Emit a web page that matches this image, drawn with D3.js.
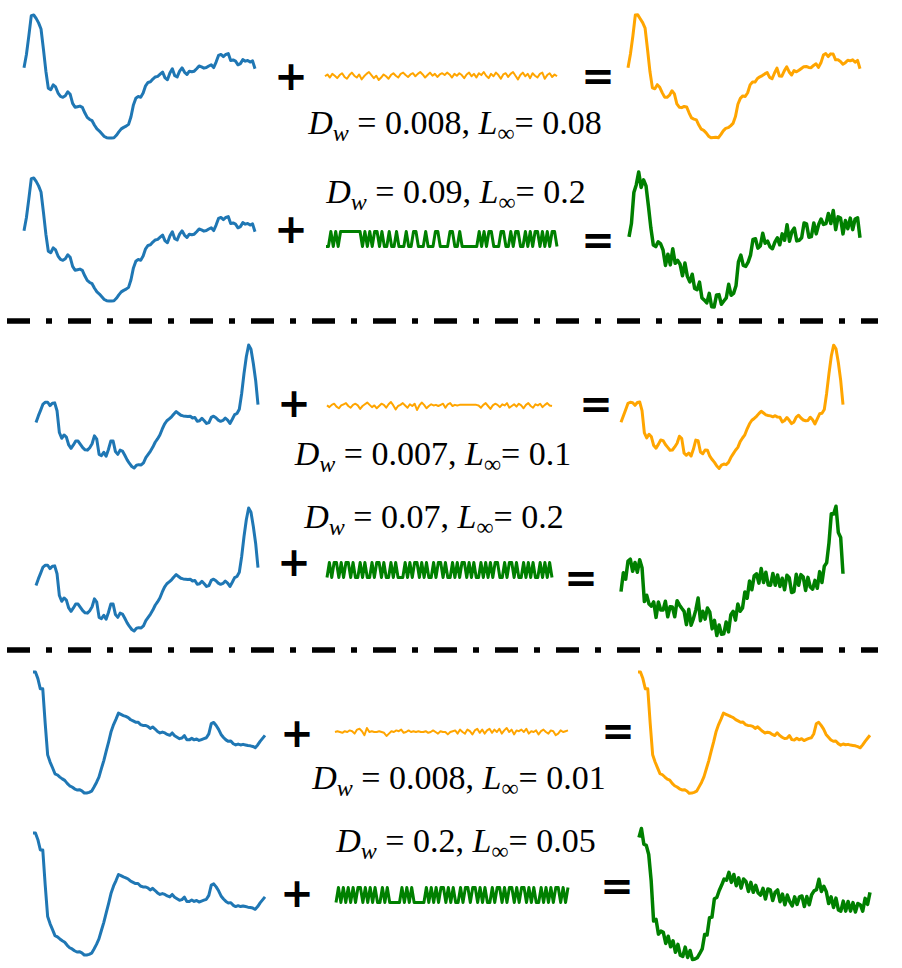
<!DOCTYPE html>
<html>
<head>
<meta charset="utf-8">
<script src="https://cdn.jsdelivr.net/npm/d3@7"></script>
<style>
  body { margin: 0; background: #fff; }
  svg { display: block; }
</style>
</head>
<body>
<div id="chart"></div>
<script>
// base series (three ECG-like curves), one per section
const baseA = [
  0.50, 0.94, 1.56, 2.22, 2.24, 2.13, 1.98, 1.78, 1.11, 0.39, -0.17, -0.22,
  -0.06, -0.13, -0.33, -0.44, -0.47, -0.42, -0.29, -0.37, -0.67, -0.80, -0.78, -0.76,
  -0.80, -0.98, -1.13, -1.20, -1.24, -1.39, -1.51, -1.58, -1.67, -1.76, -1.80, -1.81,
  -1.81, -1.80, -1.72, -1.61, -1.51, -1.46, -1.42, -1.36, -1.11, -0.72, -0.50, -0.44,
  -0.47, -0.33, -0.09, 0.02, 0.04, 0.13, 0.20, 0.22, 0.29, 0.36, 0.17, 0.11,
  0.33, 0.47, 0.24, 0.20, 0.39, 0.50, 0.36, 0.28, 0.39, 0.37, 0.39, 0.47,
  0.56, 0.53, 0.49, 0.51, 0.56, 0.60, 0.51, 0.69, 0.91, 0.94, 0.87, 0.94,
  0.97, 0.74, 0.76, 0.72, 0.60, 0.64, 0.77, 0.72, 0.74, 0.69, 0.73, 0.47
];
const baseB = [
  -0.28, -0.06, 0.13, 0.33, 0.39, 0.39, 0.28, 0.36, 0.37, 0.11, -0.61, -0.80,
  -0.69, -0.76, -1.02, -1.13, -1.02, -0.89, -0.89, -1.00, -1.11, -1.18, -1.19, -1.11,
  -0.98, -0.72, -0.83, -1.33, -1.37, -1.26, -1.39, -1.17, -0.89, -0.89, -1.24, -1.33,
  -1.19, -1.22, -1.36, -1.51, -1.63, -1.73, -1.78, -1.69, -1.67, -1.68, -1.61, -1.44,
  -1.33, -1.22, -1.09, -0.93, -0.82, -0.69, -0.50, -0.33, -0.22, -0.16, -0.09, 0.00,
  0.08, 0.02, -0.04, -0.06, -0.07, -0.08, -0.07, -0.13, -0.11, -0.24, -0.22, -0.14,
  -0.22, -0.31, -0.28, -0.11, -0.07, -0.12, -0.20, -0.24, -0.21, -0.13, -0.20, -0.31,
  -0.17, -0.02, 0.02, 0.16, 0.67, 1.33, 1.89, 2.28, 2.14, 1.67, 1.11, 0.31
];
const baseC = [
  2.39, 2.39, 2.17, 1.83, 1.83, 0.67, -0.37, -0.61, -0.80, -1.00, -1.04, -1.11,
  -1.17, -1.22, -1.32, -1.40, -1.44, -1.50, -1.54, -1.53, -1.57, -1.64, -1.64, -1.62,
  -1.58, -1.44, -1.29, -1.11, -0.83, -0.56, -0.24, 0.07, 0.41, 0.64, 0.82, 1.02,
  0.98, 0.94, 0.91, 0.87, 0.80, 0.76, 0.72, 0.72, 0.64, 0.61, 0.61, 0.58,
  0.51, 0.56, 0.49, 0.41, 0.36, 0.39, 0.36, 0.31, 0.28, 0.36, 0.27, 0.22,
  0.17, 0.19, 0.27, 0.13, 0.13, 0.18, 0.13, 0.16, 0.11, 0.14, 0.17, 0.20,
  0.33, 0.67, 0.71, 0.61, 0.48, 0.31, 0.21, 0.13, 0.08, 0.09, 0.00, -0.04,
  -0.01, -0.04, -0.02, -0.04, -0.06, -0.07, -0.09, -0.13, -0.04, 0.08, 0.18, 0.28
];

// small (orange) perturbations
const noiseA1 = [
  0.000, 0.015, -0.010, 0.020, 0.005, -0.015, 0.010, 0.025, -0.005, -0.020, 0.010, 0.030,
  0.005, -0.010, 0.015, -0.025, 0.000, 0.020, 0.035, 0.010, -0.015, 0.005, -0.030, -0.010,
  0.015, 0.000, -0.020, 0.010, 0.025, 0.005, -0.010, 0.020, 0.030, 0.010, -0.005, 0.015,
  0.025, 0.000, 0.020, 0.035, 0.015, -0.010, 0.010, 0.030, 0.005, 0.020, -0.005, 0.015,
  0.025, 0.010, 0.030, 0.015, -0.010, 0.020, 0.005, 0.025, 0.010, -0.015, 0.015, 0.030,
  0.000, 0.020, -0.010, 0.025, 0.010, 0.035, 0.005, -0.015, 0.020, 0.000, 0.030, 0.010,
  -0.020, 0.015, 0.025, -0.005, 0.020, 0.035, 0.005, -0.025, 0.010, 0.030, 0.000, 0.020,
  -0.015, 0.025, 0.005, -0.010, 0.020, 0.030, -0.020, 0.010, 0.025, -0.005, 0.015, 0.000
];
const noiseB1 = [
  0.010, -0.005, 0.015, 0.025, 0.000, -0.015, 0.010, 0.020, 0.030, 0.005, -0.010, 0.015,
  0.025, 0.010, -0.020, 0.005, 0.020, 0.035, 0.015, -0.005, 0.010, -0.015, 0.005, 0.025,
  0.015, -0.010, 0.020, 0.040, 0.010, -0.025, 0.005, 0.015, 0.030, 0.010, -0.010, 0.020,
  0.005, 0.025, -0.030, 0.010, 0.035, 0.015, -0.015, 0.005, 0.020, 0.010, 0.015, 0.005,
  0.015, 0.025, -0.010, 0.020, 0.030, 0.005, 0.015, 0.010, 0.015, 0.015, 0.015, 0.015,
  0.015, 0.015, 0.015, 0.015, 0.010, -0.010, 0.015, 0.030, 0.005, -0.020, 0.010, 0.025,
  0.015, -0.005, 0.020, 0.010, 0.030, -0.010, 0.005, 0.020, 0.000, 0.025, 0.010, -0.015,
  0.015, 0.030, 0.005, -0.010, 0.020, 0.010, 0.025, -0.005, 0.015, 0.030, 0.010, 0.005
];
const noiseC1 = [
  0.000, 0.002, 0.000, -0.002, 0.002, 0.000, 0.004, 0.002, -0.004, 0.006, 0.008, 0.002,
  -0.008, 0.010, 0.000, 0.002, 0.000, 0.000, 0.002, 0.000, -0.002, -0.010, -0.004, 0.002,
  0.000, 0.004, 0.002, 0.006, -0.002, 0.000, 0.004, 0.000, 0.002, 0.000, 0.002, 0.000,
  0.000, 0.002, -0.002, 0.000, 0.004, 0.000, -0.004, 0.002, 0.000, 0.000, -0.006, 0.000,
  0.002, 0.004, -0.004, 0.006, 0.000, -0.004, 0.006, 0.002, -0.006, 0.004, 0.008, -0.002,
  0.006, -0.004, 0.004, 0.008, -0.002, 0.006, 0.000, 0.008, -0.004, 0.004, 0.010, 0.000,
  0.006, -0.006, 0.004, 0.002, 0.006, 0.000, 0.008, -0.004, 0.002, 0.000, 0.004, -0.006,
  0.002, 0.006, 0.000, -0.004, 0.004, 0.002, -0.008, -0.004, 0.004, 0.000, 0.002, 0.004
];

// large (green) perturbations, clipped at +/- eps
const noiseA2 = [
  -0.2, -0.2, 0.2, -0.2, 0.2, -0.2, 0.2, 0.2, 0.2, 0.2, 0.2, 0.2,
  0.2, 0.2, 0.2, -0.2, 0.2, -0.2, 0.2, -0.2, 0.2, 0.2, -0.2, 0.2,
  -0.2, -0.2, 0.2, -0.2, -0.2, 0.2, -0.2, -0.2, -0.2, 0.2, -0.2, -0.2,
  0.2, 0.2, -0.2, -0.2, -0.2, 0.2, -0.2, -0.2, -0.2, 0.2, 0.2, -0.2,
  -0.2, -0.2, -0.2, 0.2, 0.2, -0.2, -0.2, 0.2, -0.2, -0.2, -0.2, -0.2,
  -0.2, -0.2, -0.2, 0.2, -0.2, 0.2, -0.2, 0.2, 0.2, -0.2, -0.2, -0.2,
  0.2, 0.2, -0.2, -0.2, 0.2, -0.2, 0.2, 0.2, -0.2, -0.2, 0.2, -0.2,
  0.2, -0.2, 0.2, 0.2, -0.2, 0.2, -0.2, 0.2, -0.2, 0.2, 0.2, -0.2
];
const noiseB2 = [
  -0.2, 0.2, -0.2, 0.2, 0.2, -0.2, 0.2, -0.2, 0.2, 0.2, -0.2, 0.2,
  -0.2, -0.2, 0.2, -0.2, 0.2, -0.2, -0.2, 0.2, -0.2, 0.2, 0.2, -0.2,
  0.2, -0.2, -0.2, 0.2, -0.2, 0.2, -0.2, -0.2, -0.2, 0.2, -0.2, 0.2,
  -0.2, 0.2, 0.2, -0.2, 0.2, -0.2, 0.2, -0.2, -0.2, 0.2, -0.2, 0.2,
  0.2, -0.2, 0.2, -0.2, -0.2, 0.2, -0.2, 0.2, -0.2, 0.2, 0.2, -0.2,
  0.2, -0.2, 0.2, -0.2, -0.2, 0.2, -0.2, 0.2, -0.2, 0.2, -0.2, 0.2,
  0.2, -0.2, -0.2, 0.2, -0.2, 0.2, 0.2, -0.2, 0.2, -0.2, -0.2, 0.2,
  -0.2, 0.2, -0.2, 0.2, -0.2, -0.2, 0.2, -0.2, 0.2, -0.2, 0.2, -0.2
];
const noiseC2 = [
  -0.15, 0.15, -0.15, 0.15, -0.15, 0.15, -0.15, 0.15, -0.15, 0.15, 0.15, -0.15,
  0.15, -0.15, 0.15, -0.15, 0.15, -0.15, -0.15, 0.15, -0.15, 0.15, -0.15, -0.15,
  -0.15, -0.15, -0.15, 0.15, -0.15, 0.15, -0.15, 0.15, -0.15, -0.15, -0.15, -0.15,
  -0.15, 0.15, -0.15, 0.15, -0.15, 0.15, -0.15, 0.15, 0.15, -0.15, 0.15, -0.15,
  0.15, -0.15, -0.15, 0.15, -0.15, 0.15, 0.15, -0.15, 0.15, 0.15, -0.15, 0.15,
  -0.15, 0.15, -0.15, -0.15, 0.15, -0.15, 0.15, 0.15, -0.15, 0.15, -0.15, 0.15,
  0.15, -0.15, 0.15, -0.15, 0.15, 0.15, -0.15, 0.15, -0.15, 0.15, -0.15, -0.15,
  0.15, -0.15, 0.15, -0.15, 0.15, -0.15, 0.15, 0.15, -0.15, 0.15, -0.15, 0.15
];

const dwLabels = ['0.008', '0.09', '0.007', '0.07', '0.008', '0.2'];
const linfLabels = ['0.08', '0.2', '0.1', '0.2', '0.01', '0.05'];

const BLUE = '#1f77b4', ORANGE = '#ffa500', GREEN = '#008000';

// layout of the six rows (pixel boxes); nh = drawn height of the noise panel
const rows = [
  { base: baseA, noise: noiseA1, color: ORANGE, bx: [24, 255], by: [15, 138], nx: [325, 557], ny: 76, nh: 8, nw: 2, rw: 3,
    rx: [628, 860], plus: [291, 76], eq: [598, 76], lab: [455, 134] },
  { base: baseA, noise: noiseA2, color: GREEN, bx: [24, 255], by: [178, 301], nx: [326, 557], ny: 239, nh: 15, nw: 3, rw: 3.5,
    rx: [629, 860], plus: [291, 229], eq: [598, 240], lab: [456, 203] },
  { base: baseB, noise: noiseB1, color: ORANGE, bx: [36, 258], by: [345, 468], nx: [327, 552], ny: 406, nh: 8, nw: 2, rw: 3,
    rx: [621, 843], plus: [294, 403], eq: [596, 404], lab: [433, 465] },
  { base: baseB, noise: noiseB2, color: GREEN, bx: [36, 258], by: [508, 631], nx: [327, 552], ny: 570, nh: 15, nw: 3, rw: 3.5,
    rx: [621, 843], plus: [294, 562], eq: [581, 578], lab: [434, 528] },
  { base: baseC, noise: noiseC1, color: ORANGE, bx: [33, 265], by: [672, 793], nx: [335, 568], ny: 732, nh: 8, nw: 2, rw: 3,
    rx: [638, 870], plus: [297, 733], eq: [618, 731], lab: [459, 789] },
  { base: baseC, noise: noiseC2, color: GREEN, bx: [33, 265], by: [833, 955], nx: [336, 568], ny: 895, nh: 15, nw: 3, rw: 3.5,
    rx: [639, 870], plus: [297, 893], eq: [617, 886], lab: [466, 852] }
];
const separators = [321, 650];

const W = 902, H = 968;
const svg = d3.select('#chart').append('svg')
  .attr('width', W)
  .attr('height', H);

function drawLine(g, data, xs, ys, color, width) {
  const line = d3.line()
    .x((d, i) => xs(i))
    .y((d) => ys(d));
  g.append('path')
    .datum(data)
    .attr('d', line)
    .attr('fill', 'none')
    .attr('stroke', color)
    .attr('stroke-width', width)
    .attr('stroke-linejoin', 'round');
}

function drawLabel(g, cx, y, dw, linf) {
  const t = g.append('text')
    .attr('x', cx)
    .attr('y', y)
    .attr('text-anchor', 'middle')
    .attr('font-family', '"Liberation Serif", "Times New Roman", serif')
    .attr('font-size', 34)
    .attr('fill', '#000');
  t.append('tspan').attr('font-style', 'italic').text('D');
  t.append('tspan').attr('font-style', 'italic').attr('font-size', 24).attr('dy', 7).text('w');
  t.append('tspan').attr('dy', -7).text(' = ' + dw + ', ');
  t.append('tspan').attr('font-style', 'italic').text('L');
  t.append('tspan').attr('font-size', 24).attr('dy', 7).text('\u221e');
  t.append('tspan').attr('dy', -7).text('= ' + linf);
}

function drawSign(g, c, s) {
  g.append('text')
    .attr('x', c[0])
    .attr('y', c[1] + 14)
    .attr('text-anchor', 'middle')
    .attr('font-family', '"DejaVu Sans", sans-serif')
    .attr('font-weight', 'bold')
    .attr('font-size', 40)
    .attr('fill', '#000')
    .text(s);
}

rows.forEach((r, k) => {
  const g = svg.append('g').attr('class', 'row row-' + k);
  const n = r.base.length;
  const yb = d3.scaleLinear().domain(d3.extent(r.base)).range([r.by[1], r.by[0]]);
  // the noise panel is autoscaled to its own extent
  const yn = d3.scaleLinear().domain(d3.extent(r.noise)).range([r.ny + r.nh / 2, r.ny - r.nh / 2]);

  const xb = d3.scaleLinear().domain([0, n - 1]).range(r.bx);
  const xn = d3.scaleLinear().domain([0, n - 1]).range(r.nx);
  const xr = d3.scaleLinear().domain([0, n - 1]).range(r.rx);

  const result = r.base.map((v, i) => v + r.noise[i]);

  drawLine(g, r.base, xb, yb, BLUE, 3);
  drawLine(g, r.noise, xn, yn, r.color, r.nw);
  drawLine(g, result, xr, yb, r.color, r.rw);

  drawSign(g, r.plus, '+');
  drawSign(g, r.eq, '=');
  drawLabel(g, r.lab[0], r.lab[1], dwLabels[k], linfLabels[k]);
});

svg.selectAll('line.sep')
  .data(separators)
  .enter()
  .append('line')
  .attr('class', 'sep')
  .attr('x1', 7)
  .attr('x2', 878)
  .attr('y1', (d) => d)
  .attr('y2', (d) => d)
  .attr('stroke', '#000')
  .attr('stroke-width', 5.5)
  .attr('stroke-dasharray', '23,16,6,16');
</script>
</body>
</html>
